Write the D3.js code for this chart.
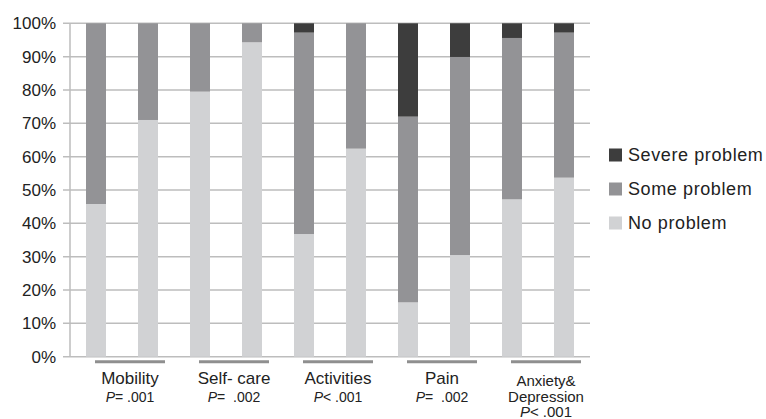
<!DOCTYPE html>
<html>
<head>
<meta charset="utf-8">
<script src="https://cdn.jsdelivr.net/npm/d3@7"></script>
<style>
  body { margin: 0; background: #fff; }
  text { font-family: "Liberation Sans", Arial, sans-serif; fill: #222; }
</style>
</head>
<body>
<div id="chart"></div>
<script>
const categories = ["Mobility", "Self- care", "Activities", "Pain", "Anxiety& Depression"];
const pTests = [["=", " .001"], ["=", "  .002"], ["<", " .001"], ["=", "  .002"], ["<", " .001"]];
const timepoints = ["first", "second"];

// two bars per category, in order
const noProblem   = [45.8, 71.0, 79.5, 94.3, 36.8, 62.4, 16.3, 30.5, 47.2, 53.7];
const someProblem = [54.2, 29.0, 20.5, 5.7, 60.4, 37.6, 55.7, 59.4, 48.4, 43.5];
const severe      = [0, 0, 0, 0, 2.8, 0, 28.0, 10.1, 4.4, 2.8];

const yTicks = [0, 10, 20, 30, 40, 50, 60, 70, 80, 90, 100];
const seriesNames = ["Severe problem", "Some problem", "No problem"];
const colors = { "No problem": "#d1d2d4", "Some problem": "#939396", "Severe problem": "#3d3d3d" };

const width = 766, height = 419;
const plotLeft = 70, plotRight = 590, plotTop = 23.3, plotBottom = 356.7;

const svg = d3.select("#chart").append("svg")
  .attr("width", width)
  .attr("height", height);

const rows = [];
categories.forEach((c, i) => {
  timepoints.forEach((t, j) => {
    const k = i * 2 + j;
    rows.push({ cat: c, time: t, "No problem": noProblem[k], "Some problem": someProblem[k], "Severe problem": severe[k] });
  });
});

const x0 = d3.scaleBand().domain(categories).range([plotLeft, plotRight]);
const x1 = d3.scaleBand().domain(timepoints).range([0, x0.bandwidth()])
  .paddingInner(32 / 52).paddingOuter(16 / 52);
const y = d3.scaleLinear().domain([0, 100]).range([plotBottom, plotTop]);

// gridlines
svg.append("g").selectAll("line")
  .data(yTicks)
  .join("line")
  .attr("x1", plotLeft - 7).attr("x2", plotRight)
  .attr("y1", d => y(d)).attr("y2", d => y(d))
  .attr("stroke", "#bdbdbd")
  .attr("stroke-width", 1.5);

// y axis line
svg.append("line")
  .attr("x1", plotLeft).attr("x2", plotLeft)
  .attr("y1", y(100)).attr("y2", y(0))
  .attr("stroke", "#bdbdbd")
  .attr("stroke-width", 1.5);

svg.append("g").selectAll("text")
  .data(yTicks)
  .join("text")
  .attr("x", 56)
  .attr("y", d => y(d) + 6)
  .attr("text-anchor", "end")
  .attr("font-size", 17)
  .text(d => d + "%");

const stack = d3.stack().keys(["No problem", "Some problem", "Severe problem"]);
const layers = stack(rows);

svg.append("g").selectAll("g")
  .data(layers)
  .join("g")
  .attr("fill", d => colors[d.key])
  .selectAll("rect")
  .data(d => d)
  .join("rect")
  .attr("x", d => x0(d.data.cat) + x1(d.data.time))
  .attr("width", x1.bandwidth())
  .attr("y", d => y(d[1]))
  .attr("height", d => y(d[0]) - y(d[1]));

// category underlines
svg.append("g").selectAll("line")
  .data(categories)
  .join("line")
  .attr("x1", d => x0(d) + 25).attr("x2", d => x0(d) + 95)
  .attr("y1", 361.7).attr("y2", 361.7)
  .attr("stroke", "#8f8f8f")
  .attr("stroke-width", 3);

// category labels
const labels = svg.append("g").selectAll("text")
  .data(categories)
  .join("text")
  .attr("text-anchor", "middle")
  .attr("xml:space", "preserve")
  .attr("x", d => x0(d) + 60);

labels.each(function (d, i) {
  const t = d3.select(this);
  const cx = x0(d) + 60;
  const parts = d.split(" ");
  if (d.includes("&")) {
    t.attr("font-size", 15);
    parts.forEach((p, k) => {
      t.append("tspan").attr("x", cx).attr("y", 386 + k * 15.7).text(p);
    });
    const ps = t.append("tspan").attr("x", cx).attr("y", 386 + 2 * 15.7);
    ps.append("tspan").attr("font-style", "italic").text("P");
    ps.append("tspan").text(pTests[i][0] + pTests[i][1]);
  } else {
    t.attr("font-size", 17);
    t.append("tspan").attr("x", cx).attr("y", 384).text(d);
    const ps = t.append("tspan").attr("x", cx).attr("y", 401.5).attr("font-size", 14);
    ps.append("tspan").attr("font-style", "italic").text("P");
    ps.append("tspan").text(pTests[i][0] + pTests[i][1]);
  }
});

// legend
const legend = svg.append("g").selectAll("g")
  .data(seriesNames)
  .join("g")
  .attr("transform", (d, i) => `translate(609, ${148.5 + i * 34})`);

legend.append("rect")
  .attr("width", 13).attr("height", 13)
  .attr("fill", d => colors[d]);

legend.append("text")
  .attr("x", 19)
  .attr("y", 12)
  .attr("font-size", 18)
  .attr("letter-spacing", 0.6)
  .text(d => d);
</script>
</body>
</html>
